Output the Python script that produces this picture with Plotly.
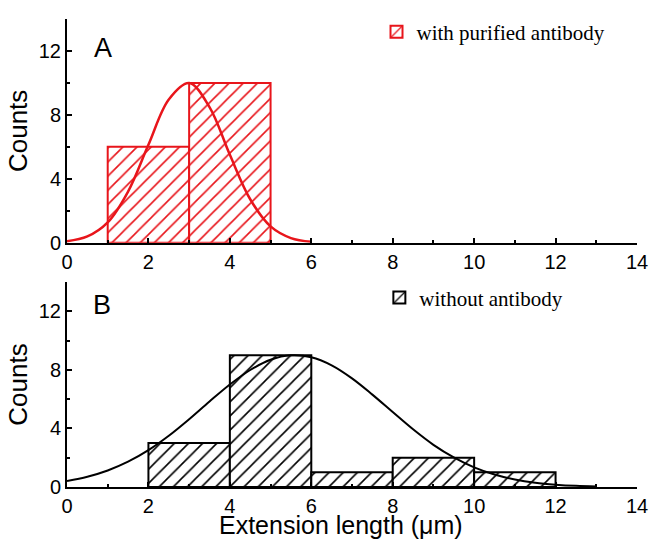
import plotly.graph_objects as go

# ---- data ----
# Panel A: histogram (bin centres, bin width 2) + fitted curve
a_bin_centers = [2, 4]
a_counts = [6, 10]
a_fit_x = [0, 0.5, 1.0, 1.5, 2.0, 2.5, 3.0, 3.5, 4.0, 4.5, 5.0, 5.5, 6.0]
a_fit_y = [0.09, 0.39, 1.27, 3.20, 6.13, 8.96, 9.99, 8.49, 5.50, 2.72, 1.02, 0.29, 0.06]

# Panel B
b_bin_centers = [3, 5, 7, 9, 11]
b_counts = [3, 9, 1, 2, 1]
b_fit_x = [0, 0.5, 1.0, 1.5, 2.0, 2.5, 3.0, 3.5, 4.0, 4.5, 5.0, 5.5, 6.0, 6.5,
           7.0, 7.5, 8.0, 8.5, 9.0, 9.5, 10.0, 10.5, 11.0, 11.5, 12.0, 12.5, 13.0]
b_fit_y = [0.41, 0.70, 1.13, 1.73, 2.52, 3.50, 4.63, 5.84, 7.00, 7.99, 8.69, 8.99, 8.86, 8.31,
           7.42, 6.31, 5.12, 3.94, 2.88, 2.02, 1.34, 0.85, 0.51, 0.29, 0.16, 0.08, 0.04]

bin_width = 2
x_ticks = [0, 2, 4, 6, 8, 10, 12, 14]
y_ticks = [0, 4, 8, 12]

RED = "#e8151b"
BLACK = "#000000"

fig = go.Figure()

fig.add_trace(go.Bar(
    x=a_bin_centers, y=a_counts, width=[bin_width] * len(a_counts),
    marker=dict(color="white", line=dict(color=RED, width=2),
                pattern=dict(shape="/", fgcolor=RED, bgcolor="white", fgopacity=1,
                             size=10, solidity=0.16)),
    name="with purified antibody", xaxis="x", yaxis="y", legend="legend"))
fig.add_trace(go.Scatter(
    x=a_fit_x, y=a_fit_y, mode="lines", line=dict(color=RED, width=2.5, shape="spline"),
    showlegend=False, xaxis="x", yaxis="y"))

fig.add_trace(go.Bar(
    x=b_bin_centers, y=b_counts, width=[bin_width] * len(b_counts),
    marker=dict(color="white", line=dict(color=BLACK, width=2),
                pattern=dict(shape="/", fgcolor=BLACK, bgcolor="white", fgopacity=1,
                             size=10, solidity=0.16)),
    name="without antibody", xaxis="x2", yaxis="y2", legend="legend2"))
fig.add_trace(go.Scatter(
    x=b_fit_x, y=b_fit_y, mode="lines", line=dict(color=BLACK, width=2, shape="spline"),
    showlegend=False, xaxis="x2", yaxis="y2"))

SANS = "Liberation Sans, Arial, sans-serif"
tickfont = dict(family=SANS, size=20, color="black")
titlefont = dict(family=SANS, size=26, color="black")

def xax(domain_anchor):
    return dict(range=[0, 14], tickvals=x_ticks, ticks="inside", ticklen=5, tickwidth=2,
                tickcolor="black", showline=True, linecolor="black", linewidth=2,
                showgrid=False, zeroline=False, tickfont=tickfont, anchor=domain_anchor,
                automargin=False, domain=[0, 1],
                minor=dict(ticks="inside", dtick=1, ticklen=3, tickwidth=1.5, tickcolor="black"))

def yax(domain, anchor):
    return dict(range=[0, 14], tickvals=y_ticks, ticks="inside", ticklen=5, tickwidth=2,
                tickcolor="black", showline=True, linecolor="black", linewidth=2,
                showgrid=False, zeroline=False, tickfont=tickfont, domain=domain, anchor=anchor,
                automargin=False,
                title=dict(text="Counts", font=titlefont, standoff=4),
                minor=dict(ticks="inside", dtick=2, ticklen=3, tickwidth=1.5, tickcolor="black"))

legfont = dict(family="Liberation Serif, Times New Roman, serif", size=21, color="black")

fig.update_layout(
    width=651, height=542,
    margin=dict(l=67, r=14, t=12, b=55),
    plot_bgcolor="white", paper_bgcolor="white",
    barmode="overlay",
    xaxis=xax("y"),
    yaxis=yax([0.522, 1.0], "x"),
    xaxis2=xax("y2"),
    yaxis2=yax([0.0, 0.438], "x2"),
    legend=dict(x=0.543, y=0.972, xanchor="left", yanchor="middle", font=legfont,
                bgcolor="rgba(0,0,0,0)"),
    legend2=dict(x=0.548, y=0.404, xanchor="left", yanchor="middle", font=legfont,
                 bgcolor="rgba(0,0,0,0)"),
    annotations=[
        dict(text="A", x=0.88, y=12.2, xref="x", yref="y", showarrow=False,
             font=dict(family=SANS, size=27, color="black")),
        dict(text="B", x=0.85, y=12.4, xref="x2", yref="y2", showarrow=False,
             font=dict(family=SANS, size=27, color="black")),
        dict(text="Extension length (μm)", x=0.481, y=-0.046, xref="paper", yref="paper",
             xanchor="center", yanchor="top", showarrow=False,
             font=dict(family=SANS, size=25, color="black")),
    ],
)

fig.write_html("out.html", config={"displayModeBar": False},
               post_script="document.body.style.margin='0';")
